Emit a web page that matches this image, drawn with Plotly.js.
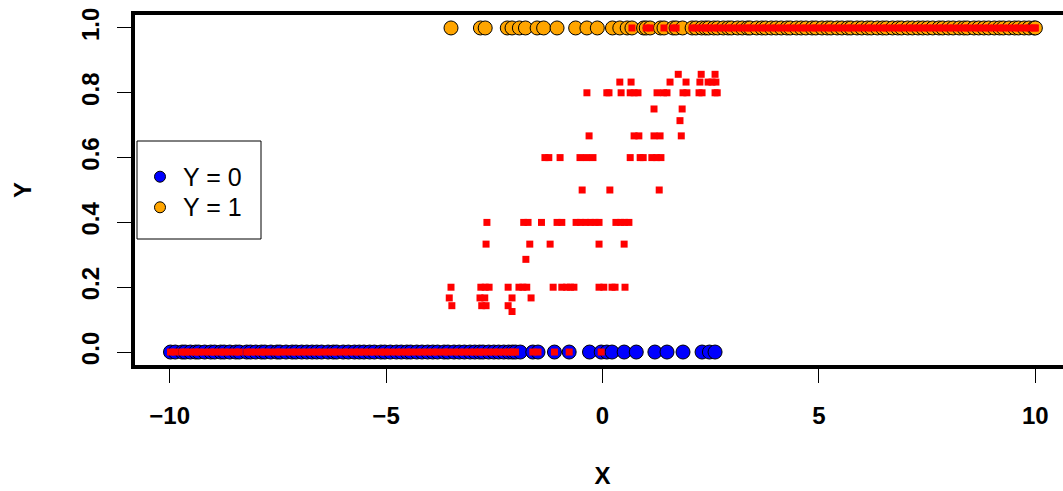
<!DOCTYPE html>
<html>
<head>
<meta charset="utf-8">
<script src="https://cdn.plot.ly/plotly-3.0.1.min.js"></script>
<style>
  html, body { margin: 0; padding: 0; overflow: hidden; background: #ffffff; }
</style>
</head>
<body>
<div id="plot"></div>
<script>
// Observations with Y = 0
const blueX = [
  -9.98, -9.87, -9.71, -9.64, -9.52, -9.40, -9.33, -9.19, -9.05, -8.96,
  -8.82, -8.74, -8.61, -8.47, -8.39, -8.22, -8.13, -8.01, -7.88, -7.80,
  -7.66, -7.52, -7.45, -7.31, -7.17, -7.08, -6.95, -6.83, -6.71, -6.60,
  -6.49, -6.34, -6.22, -6.14, -5.99, -5.87, -5.73, -5.62, -5.51, -5.38,
  -5.27, -5.12, -5.03, -4.90, -4.76, -4.65, -4.52, -4.43, -4.29, -4.17,
  -4.04, -3.92, -3.81, -3.66, -3.57, -3.43, -3.31, -3.19, -3.06, -2.95,
  -2.84, -2.76, -2.63, -2.51, -2.40, -2.28, -2.17, -2.08, -2.01,
  -1.90, -1.61, -1.49, -1.11, -0.77, -0.30, -0.03, 0.10, 0.22, 0.50,
  0.78, 1.21, 1.49, 1.86, 2.30, 2.47, 2.60
];

// Observations with Y = 1
const orangeX = [
  -3.50, -2.82, -2.71, -2.20, -2.09, -1.92, -1.78, -1.51, -1.36, -1.05,
  -0.62, -0.36, -0.12, 0.23, 0.40, 0.57, 0.68, 0.95, 1.01, 1.10,
  1.34, 1.42, 1.63, 1.70, 1.85,
  2.07, 2.16, 2.29, 2.38, 2.45, 2.57, 2.66, 2.79, 2.90, 2.98,
  3.12, 3.23, 3.35, 3.41, 3.56, 3.68, 3.77, 3.90, 4.01, 4.13,
  4.26, 4.34, 4.48, 4.59, 4.70, 4.84, 4.93, 5.07, 5.19, 5.28,
  5.42, 5.53, 5.66, 5.74, 5.88, 5.99, 6.12, 6.21, 6.35, 6.47,
  6.56, 6.70, 6.82, 6.91, 7.05, 7.16, 7.29, 7.40, 7.51, 7.63,
  7.77, 7.86, 7.99, 8.10, 8.24, 8.35, 8.43, 8.58, 8.69, 8.81,
  8.92, 9.05, 9.17, 9.26, 9.39, 9.52, 9.61, 9.74, 9.85, 9.97, 10.0
];

// Local proportions of Y = 1 that sit on the 0 and 1 levels, besides the tails
const fitZeroExtraX = [-1.61, -1.49, -1.11, -0.77, -0.03];
const fitOneExtraX = [0.68, 1.01, 1.10, 1.42, 1.63, 1.70];

// Local proportions strictly between 0 and 1
const fitMidX = [
  1.75, 2.28, 2.60,
  0.40, 0.66, 1.56, 1.93, 2.25, 2.44, 2.53, 2.62,
  -0.36, 0.10, 0.15, 0.43, 0.64, 0.73, 0.82, 1.26, 1.41, 1.49, 1.86, 1.95, 2.23, 2.30, 2.60, 2.65,
  1.19, 1.84,
  1.79,
  -0.31, 0.73, 0.84, 1.19, 1.33, 1.82,
  -1.33, -1.24, -0.98, -0.52, -0.37, -0.22, 0.64, 0.87, 0.94, 1.14, 1.25, 1.35,
  -0.47, 0.17, 1.31,
  -2.67, -1.82, -1.72, -1.41, -1.05, -0.94, -0.61, -0.51, -0.39, -0.28, -0.17, -0.08, 0.31, 0.42, 0.51, 0.61,
  -2.69, -1.68, -1.21, -0.08, 0.50,
  -1.77,
  -3.50, -2.81, -2.71, -2.62, -2.18, -1.93, -1.84, -1.75, -1.14, -0.94, -0.83, -0.74, -0.66, -0.08, 0.03, 0.22, 0.29, 0.52,
  -3.54, -2.83, -2.72, -2.09, -1.65,
  -3.48, -2.79, -2.69, -2.18,
  -2.09
];
const fitMidY = [
  0.857, 0.857, 0.857,
  0.833, 0.833, 0.833, 0.833, 0.833, 0.833, 0.833, 0.833,
  0.8, 0.8, 0.8, 0.8, 0.8, 0.8, 0.8, 0.8, 0.8, 0.8, 0.8, 0.8, 0.8, 0.8, 0.8, 0.8,
  0.75, 0.75,
  0.714,
  0.667, 0.667, 0.667, 0.667, 0.667, 0.667,
  0.6, 0.6, 0.6, 0.6, 0.6, 0.6, 0.6, 0.6, 0.6, 0.6, 0.6, 0.6,
  0.5, 0.5, 0.5,
  0.4, 0.4, 0.4, 0.4, 0.4, 0.4, 0.4, 0.4, 0.4, 0.4, 0.4, 0.4, 0.4, 0.4, 0.4, 0.4,
  0.333, 0.333, 0.333, 0.333, 0.333,
  0.286,
  0.2, 0.2, 0.2, 0.2, 0.2, 0.2, 0.2, 0.2, 0.2, 0.2, 0.2, 0.2, 0.2, 0.2, 0.2, 0.2, 0.2, 0.2,
  0.167, 0.167, 0.167, 0.167, 0.167,
  0.143, 0.143, 0.143, 0.143,
  0.125
];

const xTicks = [-10, -5, 0, 5, 10];
const yTicks = [0, 0.2, 0.4, 0.6, 0.8, 1.0];
const legendLabels = ['Y = 0', 'Y = 1'];
const groupColors = ['#0000FF', '#FFA500'];

const fitZeroX = blueX.filter(v => v <= -2).concat(fitZeroExtraX);
const fitOneX = orangeX.filter(v => v >= 2).concat(fitOneExtraX);
const fitX = fitZeroX.concat(fitMidX, fitOneX);
const fitY = fitZeroX.map(() => 0).concat(fitMidY, fitOneX.map(() => 1));

const FONT = 'Liberation Sans, Arial, Helvetica, sans-serif';
const outline = { color: '#000000', width: 1 };

const traces = [
  {
    type: 'scatter', mode: 'markers', name: legendLabels[0],
    x: blueX, y: blueX.map(() => 0),
    marker: { symbol: 'circle', size: 14, color: groupColors[0], line: outline }
  },
  {
    type: 'scatter', mode: 'markers', name: legendLabels[1],
    x: orangeX, y: orangeX.map(() => 1),
    marker: { symbol: 'circle', size: 14, color: groupColors[1], line: outline }
  },
  {
    type: 'scatter', mode: 'markers', name: 'fit',
    x: fitX, y: fitY,
    marker: { symbol: 'square', size: 7, color: '#FF0000', line: { width: 0 } }
  }
];

// Legend box drawn in paper coordinates of the plotting region
const PLOT_L = 135, PLOT_T = 15, PLOT_W = 935, PLOT_H = 350;
const px = v => (v - PLOT_L) / PLOT_W;
const py = v => (PLOT_T + PLOT_H - v) / PLOT_H;
const legBox = { left: 137, right: 261, top: 141, bottom: 239 };
const legRows = [176.7, 207.3];
const legKeyX = 160, legTextX = 181;

const shapes = [{
  type: 'rect', xref: 'paper', yref: 'paper', layer: 'above',
  x0: px(legBox.left), x1: px(legBox.right), y0: py(legBox.bottom), y1: py(legBox.top),
  line: { color: '#000000', width: 1 }, fillcolor: '#ffffff'
}];
const annotations = [];
legRows.forEach((row, i) => {
  shapes.push({
    type: 'circle', xref: 'paper', yref: 'paper', layer: 'above',
    xsizemode: 'pixel', ysizemode: 'pixel',
    xanchor: px(legKeyX), yanchor: py(row),
    x0: -5.5, x1: 5.5, y0: -5.5, y1: 5.5,
    line: { color: '#000000', width: 1 }, fillcolor: groupColors[i]
  });
  annotations.push({
    xref: 'paper', yref: 'paper', x: px(legTextX), y: py(row),
    xanchor: 'left', yanchor: 'middle', showarrow: false,
    text: legendLabels[i],
    font: { family: FONT, size: 25, color: '#000000' }
  });
});

const axisCommon = {
  showline: true, mirror: true, linecolor: '#000000', linewidth: 4,
  ticks: 'outside', ticklen: 14, tickwidth: 1, tickcolor: '#000000',
  showgrid: false, zeroline: false, fixedrange: true,
  tickfont: { family: FONT, size: 24, color: '#000000', weight: 700 }
};

const layout = {
  width: 1080, height: 491,
  margin: { l: PLOT_L, r: 1080 - PLOT_L - PLOT_W, t: PLOT_T, b: 491 - PLOT_T - PLOT_H },
  paper_bgcolor: '#ffffff', plot_bgcolor: '#ffffff',
  showlegend: false,
  shapes: shapes,
  annotations: annotations,
  xaxis: Object.assign({}, axisCommon, {
    range: [-10.8, 10.8], tickvals: xTicks, ticklabelstandoff: 12,
    title: { text: 'X', standoff: 40, font: { family: FONT, size: 24, color: '#000000', weight: 700 } }
  }),
  yaxis: Object.assign({}, axisCommon, {
    range: [-0.04, 1.04], tickvals: yTicks, tickformat: '.1f', tickangle: -90,
    ticklabelstandoff: 8,
    title: { text: 'Y', standoff: 40, font: { family: FONT, size: 24, color: '#000000', weight: 700 } }
  })
};

Plotly.newPlot('plot', traces, layout, { displayModeBar: false, staticPlot: true });
</script>
</body>
</html>
